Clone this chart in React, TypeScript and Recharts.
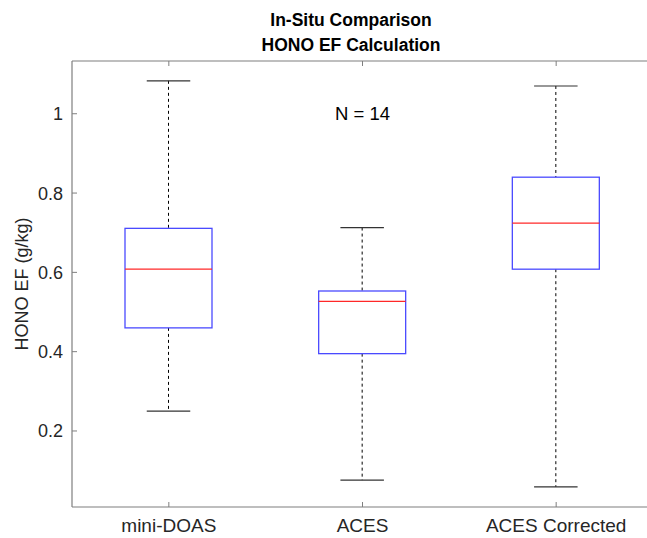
import { Bar, ComposedChart, ReferenceDot, XAxis, YAxis } from 'recharts';

const categories = ['mini-DOAS', 'ACES', 'ACES Corrected'];
const whiskerLow = [0.25, 0.076, 0.059];
const boxLow = [0.46, 0.395, 0.608];
const medians = [0.608, 0.527, 0.724];
const boxHigh = [0.711, 0.553, 0.84];
const whiskerHigh = [1.083, 0.713, 1.07];
const yTicks = [0.2, 0.4, 0.6, 0.8, 1];

const FONT = '"Liberation Sans", Arial, sans-serif';
const AXIS = '#7f7f7f';

const data = categories.map((name, i) => ({
  name,
  range: [whiskerLow[i], whiskerHigh[i]],
  lo: whiskerLow[i],
  q1: boxLow[i],
  med: medians[i],
  q3: boxHigh[i],
  hi: whiskerHigh[i],
}));

// one shape draws the whole box; inner levels placed along the bar's own min..max span
const BoxShape = (props: any) => {
  const { x, y, width, height, payload } = props;
  const top = Math.min(y, y + height);
  const h = Math.abs(height);
  const { lo, q1, med, q3, hi } = payload;
  const at = (v: number) => top + ((hi - v) / (hi - lo)) * h;
  const cx = x + width / 2;
  const cap = width / 4;
  return (
    <g>
      <line x1={cx} x2={cx} y1={at(hi)} y2={at(q3)} stroke="#000" strokeDasharray="3 3" />
      <line x1={cx} x2={cx} y1={at(q1)} y2={at(lo)} stroke="#000" strokeDasharray="3 3" />
      <line x1={cx - cap} x2={cx + cap} y1={at(hi)} y2={at(hi)} stroke="#333" strokeWidth={1.2} />
      <line x1={cx - cap} x2={cx + cap} y1={at(lo)} y2={at(lo)} stroke="#333" strokeWidth={1.2} />
      <rect x={x} y={at(q3)} width={width} height={at(q1) - at(q3)} fill="none" stroke="#4a4aff" strokeWidth={1.3} />
      <line x1={x} x2={x + width} y1={at(med)} y2={at(med)} stroke="#ff2828" strokeWidth={1.2} />
    </g>
  );
};

const BottomTick = (props: any) => {
  const { x, y, payload } = props;
  return (
    <g>
      <line x1={x} x2={x} y1={y} y2={y - 5} stroke={AXIS} />
      <text x={x} y={y + 25} textAnchor="middle" fontSize={19} fill="#262626" fontFamily={FONT}>
        {payload.value}
      </text>
    </g>
  );
};

const TopTick = (props: any) => {
  const { x, y } = props;
  return <line x1={x} x2={x} y1={y} y2={y + 5} stroke={AXIS} />;
};

const LeftTick = (props: any) => {
  const { x, y, payload } = props;
  return (
    <g>
      <line x1={x} x2={x + 5} y1={y} y2={y} stroke={AXIS} />
      <text x={x - 9} y={y} dy={6.5} textAnchor="end" fontSize={18} fill="#262626" fontFamily={FONT}>
        {String(payload.value)}
      </text>
    </g>
  );
};

const App = () => {
  return (
    <div style={{ position: 'fixed', left: 8, top: 8, width: 639, height: 530, overflow: 'hidden', background: '#fff' }}>
      <style>{'html, body { margin: 0; overflow: hidden; background: #fff; }'}</style>
      <ComposedChart
        width={700}
        height={530}
        data={data}
        margin={{ top: 23, right: 55, bottom: 0, left: 0 }}
        barSize={87}
      >
        <XAxis
          dataKey="name"
          xAxisId="bottom"
          height={31}
          axisLine={{ stroke: AXIS, strokeWidth: 1.2 }}
          tickLine={false}
          tickSize={0}
          tickMargin={0}
          tick={BottomTick}
          interval={0}
        />
        <XAxis
          dataKey="name"
          xAxisId="top"
          orientation="top"
          height={30}
          axisLine={{ stroke: AXIS, strokeWidth: 1.2 }}
          tickLine={false}
          tickSize={0}
          tickMargin={0}
          tick={TopTick}
          interval={0}
        />
        <YAxis
          width={64}
          domain={[0.0083, 1.133]}
          ticks={yTicks}
          type="number"
          allowDataOverflow
          axisLine={{ stroke: AXIS, strokeWidth: 1.2 }}
          tickLine={false}
          tickSize={0}
          tickMargin={0}
          tick={LeftTick}
        />
        <Bar dataKey="range" xAxisId="bottom" shape={BoxShape} isAnimationActive={false} />
        <ReferenceDot
          x="ACES"
          y={1}
          xAxisId="bottom"
          r={0}
          fill="none"
          stroke="none"
          label={{ value: 'N = 14', position: 'center', fontSize: 18.5, fill: '#000', fontFamily: FONT }}
        />
      </ComposedChart>
      <svg width={639} height={530} style={{ position: 'absolute', left: 0, top: 0, pointerEvents: 'none' }}>
        <text x={343} y={18} textAnchor="middle" fontSize={17.5} fontWeight="bold" fill="#000" fontFamily={FONT}>
          In-Situ Comparison
        </text>
        <text x={343} y={43} textAnchor="middle" fontSize={17.5} fontWeight="bold" fill="#000" fontFamily={FONT}>
          HONO EF Calculation
        </text>
        <text
          transform="translate(13 276) rotate(-90)"
          textAnchor="middle"
          dy={6.5}
          fontSize={18}
          fill="#262626"
          fontFamily={FONT}
        >
          HONO EF (g/kg)
        </text>
      </svg>
    </div>
  );
};

export default App;
